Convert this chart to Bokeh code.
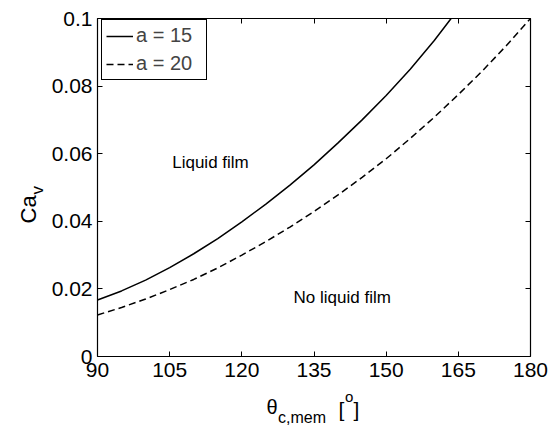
import math
from bokeh.plotting import figure
from bokeh.models import (LinearAxis, FixedTicker, CustomJSTickFormatter, Label,
                          Legend, LegendItem, Range1d)
from bokeh.embed import file_html
from bokeh.resources import INLINE

# ---- data ----
theta_a15 = [90, 95, 100, 105, 110, 115, 120, 125, 130, 135, 140, 145, 150, 155, 160, 163.5]
ca_a15 = [0.0167, 0.0194, 0.0226, 0.0263, 0.0304, 0.0349, 0.0398, 0.0451, 0.0507,
          0.0567, 0.0632, 0.0700, 0.0772, 0.0850, 0.0935, 0.1000]

theta_a20 = [90, 95, 100, 105, 110, 115, 120, 125, 130, 135, 140, 145, 150, 155, 160,
             165, 170, 175, 180]
ca_a20 = [0.0123, 0.0145, 0.0170, 0.0198, 0.0228, 0.0262, 0.0300, 0.0340, 0.0383,
          0.0429, 0.0478, 0.0530, 0.0585, 0.0645, 0.0708, 0.0775, 0.0845, 0.0920, 0.1000]

x_ticks = [90, 105, 120, 135, 150, 165, 180]
y_ticks = [0, 0.02, 0.04, 0.06, 0.08, 0.1]
legend_labels = ["a = 15", "a = 20"]

FONT = "Liberation Sans"
W, H = 551, 426

# axes box geometry in canvas pixels
FL, FR, FT, FB = 97, 530, 18, 356
X0, X1, Y0, Y1 = 90, 180, 0.0, 0.1


def dx(px):
    return X0 + (px - FL) * (X1 - X0) / (FR - FL)


def dy(py):
    return Y0 + (FB - py) * (Y1 - Y0) / (FB - FT)


# the frame spans the whole canvas; the axes are drawn at fixed locations around the data box
p = figure(width=W, height=H, x_range=Range1d(dx(0), dx(W)), y_range=Range1d(dy(H), dy(0)),
           output_backend="svg", toolbar_location=None,
           min_border_left=0, min_border_right=0, min_border_top=0, min_border_bottom=0)
p.xgrid.visible = False
p.ygrid.visible = False
p.outline_line_color = None
p.background_fill_color = "white"
p.border_fill_color = "white"

fmt = CustomJSTickFormatter(code="return tick.toFixed(2).replace(/0+$/,'').replace(/\\.$/,'');")
blank = CustomJSTickFormatter(code="return '';")


def style_axis(ax, ticks, bounds, loc, show_labels, formatter=None):
    ax.ticker = FixedTicker(ticks=ticks)
    ax.bounds = bounds
    ax.fixed_location = loc
    ax.minor_tick_line_color = None
    ax.major_tick_in = 5
    ax.major_tick_out = 0
    ax.axis_line_color = "black"
    ax.axis_line_width = 1.2
    ax.major_tick_line_color = "black"
    ax.major_tick_line_width = 1
    if formatter is not None:
        ax.formatter = formatter
    ax.major_label_text_font = FONT
    ax.major_label_text_color = "black"
    if show_labels:
        ax.major_label_text_font_size = "21px"
    else:
        ax.major_label_text_font_size = "10px"
        ax.major_label_standoff = 0


style_axis(p.xaxis[0], x_ticks, (X0, X1), Y0, True)
p.xaxis[0].major_label_standoff = 6
style_axis(p.yaxis[0], y_ticks, (Y0, Y1), X0, True, fmt)
p.yaxis[0].major_label_standoff = 5

top_ax = LinearAxis()
style_axis(top_ax, x_ticks, (X0, X1), Y1, False, blank)
p.add_layout(top_ax, "above")
right_ax = LinearAxis()
style_axis(right_ax, y_ticks, (Y0, Y1), X1, False, blank)
p.add_layout(right_ax, "right")

r1 = p.line(theta_a15, ca_a15, line_color="black", line_width=1.5)
r2 = p.line(theta_a20, ca_a20, line_color="black", line_width=1.5, line_dash="7 4")

# legend box: left 101, top 23, height ~57 px (location = offset of its bottom-left from frame bottom-left)
legend = Legend(items=[LegendItem(label=legend_labels[0], renderers=[r1]),
                       LegendItem(label=legend_labels[1], renderers=[r2])],
                location=(101, H - 80))
legend.border_line_color = "black"
legend.border_line_alpha = 1
legend.border_line_width = 1.5
legend.background_fill_color = "white"
legend.background_fill_alpha = 1
legend.label_text_font = FONT
legend.label_text_font_size = "20px"
legend.glyph_width = 27
legend.glyph_height = 22
legend.label_height = 22
legend.label_width = 66
legend.label_standoff = 3
legend.spacing = 5
legend.padding = 4
legend.margin = 0
p.add_layout(legend)

# region annotations
p.add_layout(Label(x=dx(210), y=dy(161.5), text="Liquid film", text_align="center",
                   text_baseline="alphabetic", text_font=FONT, text_font_size="17px",
                   text_color="black"))
p.add_layout(Label(x=dx(341.7), y=dy(296.5), text="No liquid film", text_align="center",
                   text_baseline="alphabetic", text_font=FONT, text_font_size="17px",
                   text_color="black"))

# x-axis title: theta_{c,mem} [^o]
for txt, px, py, fs in [("θ", 266, 406, "20px"), ("c,mem", 277.5, 416.5, "16px"),
                        ("[", 338, 408.5, "21px"), ("o", 344.5, 396, "15px"),
                        ("]", 353, 408.5, "21px")]:
    p.add_layout(Label(x=dx(px), y=dy(py), text=txt, text_align="left",
                       text_baseline="alphabetic", text_font=FONT, text_font_size=fs,
                       text_color="black"))

# y-axis title: Ca_v (rotated)
p.add_layout(Label(x=dx(28), y=dy(223), text="Ca", angle=math.pi / 2, text_align="left",
                   text_baseline="alphabetic", text_font=FONT, text_font_size="22px",
                   text_color="black"))
p.add_layout(Label(x=dx(36.5), y=dy(194), text="v", angle=math.pi / 2, text_align="left",
                   text_baseline="alphabetic", text_font=FONT, text_font_size="17px",
                   text_color="black"))

open("out.html", "w").write(file_html(p, INLINE))
